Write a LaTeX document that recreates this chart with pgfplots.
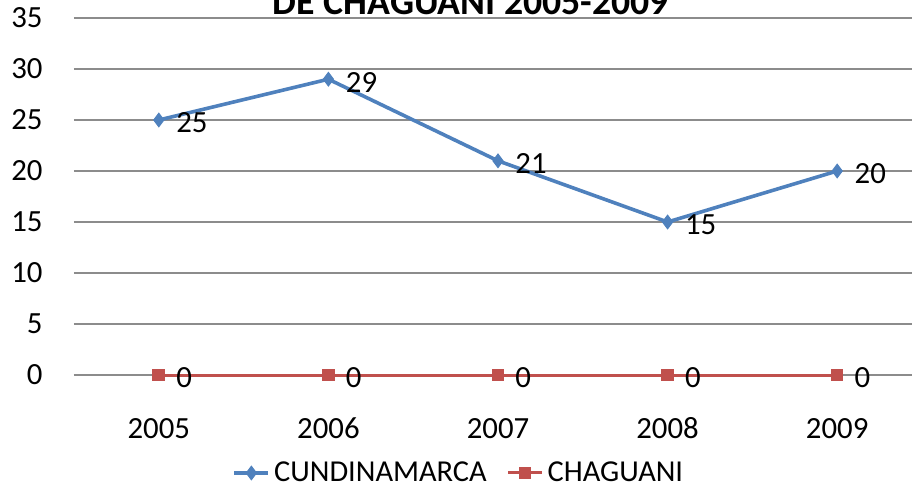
\documentclass[border=0pt]{standalone}
\usepackage{pgfplots}
\pgfplotsset{compat=1.18}
\usepackage{fontspec}
\setmainfont{Carlito}
\definecolor{exblue}{HTML}{4F81BD}
\definecolor{exred}{HTML}{C0504D}
\definecolor{gridgray}{HTML}{8C8C8C}
\begin{document}
\begin{tikzpicture}
\useasboundingbox (0,0) rectangle (456pt,244.5pt);
\clip (0,0) rectangle (456pt,244.5pt);
\begin{axis}[
  at={(37pt,57pt)}, anchor=south west,
  scale only axis, width=424pt, height=178.5pt,
  xmin=-0.5, xmax=4.5, ymin=0, ymax=35,
  xtick={0,1,2,3,4},
  xticklabels={2005,2006,2007,2008,2009},
  ytick={0,5,...,35},
  ymajorgrids,
  major grid style={gridgray, line width=0.6pt},
  axis line style={draw=none},
  major tick length=0pt,
  clip=false,
  font=\fontsize{15.4}{18}\selectfont,
  /pgf/number format/assume math mode=true,
  xticklabel style={anchor=base, inner sep=0pt, yshift=-31.5pt},
  yticklabel style={anchor=east, inner sep=0pt, xshift=-15.5pt},
  legend columns=2,
  legend style={at={(0.455,-0.2745)}, anchor=center, draw=none, fill=none,
    font=\fontsize{15.2}{18}\selectfont,
    /tikz/every even column/.append style={column sep=8pt}},
  legend image code/.code={\draw[mark repeat=2,mark phase=2] plot coordinates {(0pt,0pt)(8.5pt,0pt)(17pt,0pt)};},
  nodes near coords,
  every node near coord/.append style={anchor=west, inner sep=0pt, xshift=8.5pt, yshift=-1.5pt, font=\fontsize{15.4}{18}\selectfont, text=black},
]
\draw[gridgray, line width=0.6pt] (axis cs:-0.5,0) -- (axis cs:4.5,0);
\addplot[exblue, line width=1.8pt, mark=diamond*, mark size=3.4pt, mark options={fill=exblue, draw=exblue, line width=0.5pt}]
  coordinates {(0,25) (1,29) (2,21) (3,15) (4,20)};
\addlegendentry{CUNDINAMARCA}
\addplot[exred, line width=1.5pt, mark=square*, mark size=2.9pt, mark options={fill=exred, draw=exred, line width=0.5pt}]
  coordinates {(0,0) (1,0) (2,0) (3,0) (4,0)};
\addlegendentry{CHAGUANI}
\end{axis}
\node[anchor=base, inner sep=0pt, font=\fontsize{18.9}{22}\selectfont\bfseries] at (235.5pt,237.5pt) {DE CHAGUANI 2005-2009};
\end{tikzpicture}
\end{document}
